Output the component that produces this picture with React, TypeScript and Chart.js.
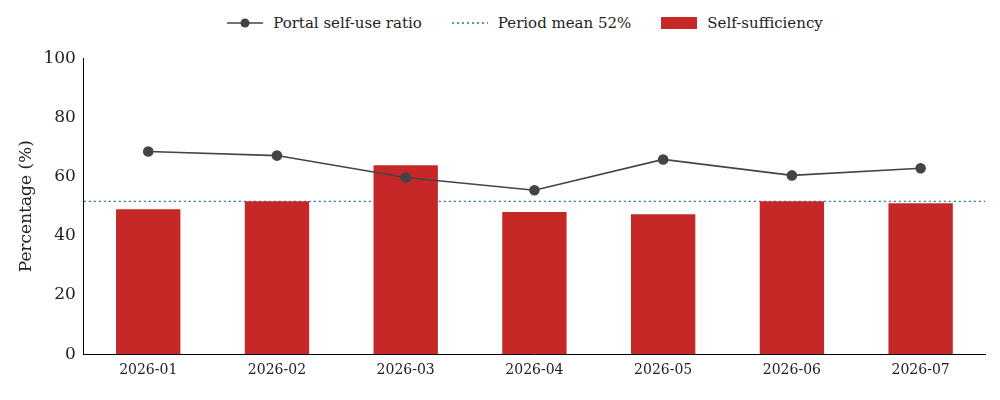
import React, { useEffect, useRef } from "react";
import { Chart, registerables } from "chart.js";
Chart.register(...registerables);

const categories = ["2026-01", "2026-02", "2026-03", "2026-04", "2026-05", "2026-06", "2026-07"];
const selfSufficiency = [49.0, 51.7, 63.8, 48.0, 47.3, 51.7, 51.0];
const portalRatio = [68.5, 67.1, 59.7, 55.4, 65.8, 60.4, 62.8];
const periodMean = 51.6;
const yTicks = [0, 20, 40, 60, 80, 100];

const FONT = "'DejaVu Serif', serif";

const meanPlugin = {
  id: "meanLine",
  beforeDatasetsDraw(chart: any) {
    const { ctx, chartArea, scales } = chart;
    const y = scales.y.getPixelForValue(periodMean);
    ctx.save();
    ctx.strokeStyle = "#1f77b4";
    ctx.lineWidth = 1.3;
    ctx.setLineDash([2, 3]);
    ctx.beginPath();
    ctx.moveTo(chartArea.left, y);
    ctx.lineTo(chartArea.right, y);
    ctx.stroke();
    ctx.restore();
  },
};

export default function App() {
  const ref = useRef<HTMLCanvasElement>(null);
  useEffect(() => {
    document.body.style.margin = "0";
    const chart = new Chart(ref.current!, {
      type: "bar",
      data: {
        labels: categories,
        datasets: [
          {
            type: "line",
            label: "Portal self-use ratio",
            data: portalRatio,
            borderColor: "#444444",
            backgroundColor: "#444444",
            borderWidth: 1.6,
            pointRadius: 4.5,
            pointHoverRadius: 4.5,
            order: 0,
          } as any,
          {
            label: "Self-sufficiency",
            data: selfSufficiency,
            backgroundColor: "#c62828",
            barPercentage: 0.5,
            categoryPercentage: 1,
            order: 1,
          },
        ],
      },
      options: {
        animation: false,
        responsive: false,
        layout: { padding: { left: 12, right: 15, top: 0, bottom: 18 } },
        plugins: { legend: { display: false }, tooltip: { enabled: false } },
        scales: {
          x: {
            grid: { display: false, drawTicks: true, tickLength: 5, color: "#000" },
            border: { color: "#000", width: 1 },
            ticks: { color: "#222", font: { family: FONT, size: 14 } },
          },
          y: {
            min: 0,
            max: 100,
            afterBuildTicks: (s: any) => { s.ticks = yTicks.map((v) => ({ value: v })); },
            grid: { display: false, drawTicks: true, tickLength: 5 },
            border: { color: "#000", width: 1 },
            ticks: { color: "#222", font: { family: FONT, size: 17 } },
            title: { display: true, text: "Percentage (%)", color: "#222", font: { family: FONT, size: 17 } },
          },
        },
      },
      plugins: [meanPlugin],
    });
    return () => chart.destroy();
  }, []);

  const item = { display: "flex", alignItems: "center", gap: 10, marginRight: 30 } as const;
  return (
    <div style={{ width: 1000, height: 400, fontFamily: FONT, background: "#fff" }}>
      <div style={{ height: 45, display: "flex", justifyContent: "center", alignItems: "center", fontSize: 15, color: "#222", paddingLeft: 80 }}>
        <div style={item}>
          <svg width="36" height="12"><line x1="0" y1="6" x2="36" y2="6" stroke="#444" strokeWidth="1.6" /><circle cx="18" cy="6" r="4.5" fill="#444" /></svg>
          <span>Portal self-use ratio</span>
        </div>
        <div style={item}>
          <svg width="36" height="12"><line x1="0" y1="6" x2="36" y2="6" stroke="#1f77b4" strokeWidth="1.3" strokeDasharray="2 3" /></svg>
          <span>Period mean 52%</span>
        </div>
        <div style={item}>
          <div style={{ width: 36, height: 12, background: "#c62828" }} />
          <span>Self-sufficiency</span>
        </div>
      </div>
      <canvas ref={ref} width={1000} height={355} />
    </div>
  );
}
